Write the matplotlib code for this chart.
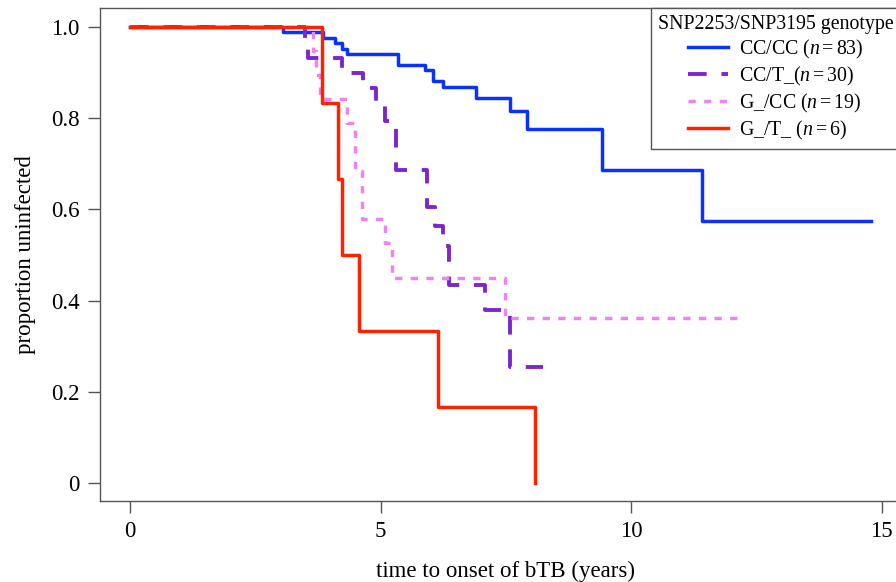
import matplotlib
matplotlib.use("Agg")
import matplotlib.pyplot as plt

plt.rcParams['font.family'] = ['Liberation Serif', 'DejaVu Serif']
plt.rcParams['mathtext.fontset'] = 'custom'
plt.rcParams['mathtext.rm'] = 'Liberation Serif'
plt.rcParams['mathtext.it'] = 'Liberation Serif:italic'

# Kaplan-Meier curves (time in years, proportion uninfected)
cc_cc_t = [0, 3.05, 3.85, 4.09, 4.23, 4.33, 5.35, 5.89, 6.05, 6.25, 6.9, 7.58, 7.92, 9.42, 11.42, 14.79]
cc_cc_s = [1.0, 0.988, 0.976, 0.964, 0.952, 0.940, 0.917, 0.906, 0.882, 0.869, 0.845, 0.816, 0.776, 0.686, 0.575, 0.575]

cc_t_t = [0, 3.49, 3.55, 4.23, 4.65, 4.91, 5.09, 5.31, 5.93, 6.09, 6.25, 6.37, 7.09, 7.58, 8.24]
cc_t_s = [1.0, 0.967, 0.933, 0.900, 0.867, 0.830, 0.793, 0.686, 0.605, 0.563, 0.520, 0.434, 0.379, 0.254, 0.254]

g_cc_t = [0, 3.65, 3.71, 3.79, 4.33, 4.49, 4.63, 5.09, 5.23, 7.49, 12.18]
g_cc_s = [1.0, 0.947, 0.895, 0.842, 0.789, 0.684, 0.579, 0.526, 0.450, 0.362, 0.362]

g_t_t = [0, 3.83, 4.15, 4.23, 4.57, 6.15, 8.08]
g_t_s = [1.0, 0.833, 0.667, 0.5, 0.333, 0.167, 0.0]

labels = [r'CC/CC ($n = 83$)', r'CC/T_($n = 30$)', r'G_/CC ($n = 19$)', r'G_/T_ ($n = 6$)']
xticks = [0, 5, 10, 15]
yticks = [0, 0.2, 0.4, 0.6, 0.8, 1.0]
yticklabels = ['0', '0.2', '0.4', '0.6', '0.8', '1.0']

W, H = 896, 582
fig = plt.figure(figsize=(W / 100, H / 100), dpi=100)
ax = fig.add_axes([100 / W, (H - 501) / H, 811.6 / W, 493 / H])

lw = 2.5
ax.step(cc_cc_t, cc_cc_s, where='post', color='#0a32ff', lw=lw, label=labels[0])
ax.step(cc_t_t, cc_t_s, where='post', color='#7d26cd', lw=lw + 0.3, ls=(0, (4.8, 3.8)), label=labels[1])
ax.step(g_cc_t, g_cc_s, where='post', color='#ee82ee', lw=lw, ls=(0, (2.1, 2.4)), label=labels[2])
ax.step(g_t_t, g_t_s, where='post', color='#ff2200', lw=lw, label=labels[3])

ax.set_xlim(-0.6, 15.6)
ax.set_ylim(-0.0395, 1.0417)
ax.set_xticks(xticks)
ax.set_yticks(yticks)
ax.set_yticklabels(yticklabels)
ax.tick_params(labelsize=16.5, length=8.6, width=1, color='#555555', pad=6)
for s in ax.spines.values():
    s.set_color('#555555')
    s.set_linewidth(1)

ax.set_xlabel('time to onset of bTB (years)', fontsize=16.5, labelpad=13)
ax.set_ylabel('proportion uninfected', fontsize=16.5, labelpad=11)

leg = ax.legend(title='SNP2253/SNP3195 genotype', loc='upper left',
                bbox_to_anchor=((651 - 100) / 811.6, 1.0), borderaxespad=0,
                fontsize=14.3, title_fontsize=14.3, fancybox=False,
                edgecolor='#555555', framealpha=1, handlelength=2.0,
                handletextpad=0.55, labelspacing=0.2, borderpad=0.35)
leg.get_frame().set_linewidth(1)

fig.savefig('out.png', dpi=100)
